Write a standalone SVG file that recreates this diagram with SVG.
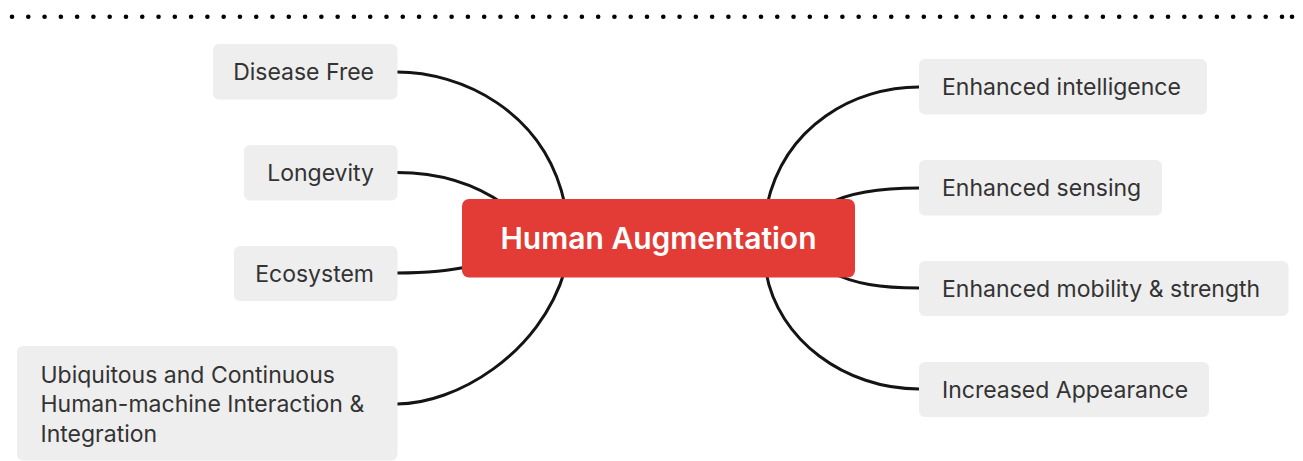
<svg xmlns="http://www.w3.org/2000/svg" width="1303" height="461" viewBox="0 0 1303 461">
  <style>
    .topic rect { fill: #eeeeee; }
    .topic text { font-family: Inter, "Liberation Sans", sans-serif; font-size: 23px; fill: #333333; }
    .edge { fill: none; stroke: #141414; stroke-width: 3; stroke-linecap: round; }
    .central rect { fill: #e33b36; }
    .central text { font-family: Inter, "Liberation Sans", sans-serif; font-size: 30px; font-weight: 600; fill: #ffffff; }
  </style>
  <rect width="1303" height="461" fill="#ffffff"/>

  <!-- dotted rule along the top -->
  <g id="dotted-rule" fill="#000000">
    <line x1="12" y1="16.7" x2="1282" y2="16.7" stroke="#000000" stroke-width="4.6" stroke-linecap="round" stroke-dasharray="0 16.282"/>
    <circle cx="1292" cy="16.7" r="2.3"/>
  </g>

  <!-- branches from the central topic -->
  <g id="connectors">
    <path class="edge" d="M397,72 C460,72 545,110 565,205"/>
    <path class="edge" d="M397,172.5 C432,172.5 470,180 505,205"/>
    <path class="edge" d="M397,273 C425,273 450,271 470,266"/>
    <path class="edge" d="M397,404 C455,404 540,355 565,270"/>
    <path class="edge" d="M919,87 C855,87 785,125 767,205"/>
    <path class="edge" d="M919,188 C880,188 850,192 828,204"/>
    <path class="edge" d="M919,288 C880,288 855,284 830,272"/>
    <path class="edge" d="M919,389 C845,389 778,340 766,272"/>
  </g>

  <g id="central-topic" class="central">
    <rect x="462" y="199" width="393" height="78.5" rx="7"/>
    <text x="658.5" y="248.5" text-anchor="middle">Human Augmentation</text>
  </g>

  <g id="disease-free" class="topic">
    <rect x="213" y="44" width="184.5" height="55.5" rx="6"/>
    <text x="374" y="80" text-anchor="end">Disease Free</text>
  </g>
  <g id="longevity" class="topic">
    <rect x="244" y="145" width="153.5" height="55.5" rx="6"/>
    <text x="374" y="181" text-anchor="end">Longevity</text>
  </g>
  <g id="ecosystem" class="topic">
    <rect x="234" y="246" width="163.5" height="55" rx="6"/>
    <text x="374" y="282" text-anchor="end">Ecosystem</text>
  </g>
  <g id="ubiquitous-interaction" class="topic">
    <rect x="17" y="346" width="380.5" height="114.5" rx="6"/>
    <text x="40.5" y="382.5">Ubiquitous and Continuous</text>
    <text x="40.5" y="412">Human-machine Interaction &amp;</text>
    <text x="40.5" y="441.5">Integration</text>
  </g>

  <g id="enhanced-intelligence" class="topic">
    <rect x="919" y="59" width="288" height="55.5" rx="6"/>
    <text x="942" y="95">Enhanced intelligence</text>
  </g>
  <g id="enhanced-sensing" class="topic">
    <rect x="919" y="160" width="243" height="55.5" rx="6"/>
    <text x="942" y="196">Enhanced sensing</text>
  </g>
  <g id="enhanced-mobility" class="topic">
    <rect x="919" y="261" width="369.5" height="55" rx="6"/>
    <text x="942" y="297">Enhanced mobility &amp; strength</text>
  </g>
  <g id="increased-appearance" class="topic">
    <rect x="919" y="362" width="290" height="55" rx="6"/>
    <text x="942" y="398">Increased Appearance</text>
  </g>
</svg>
